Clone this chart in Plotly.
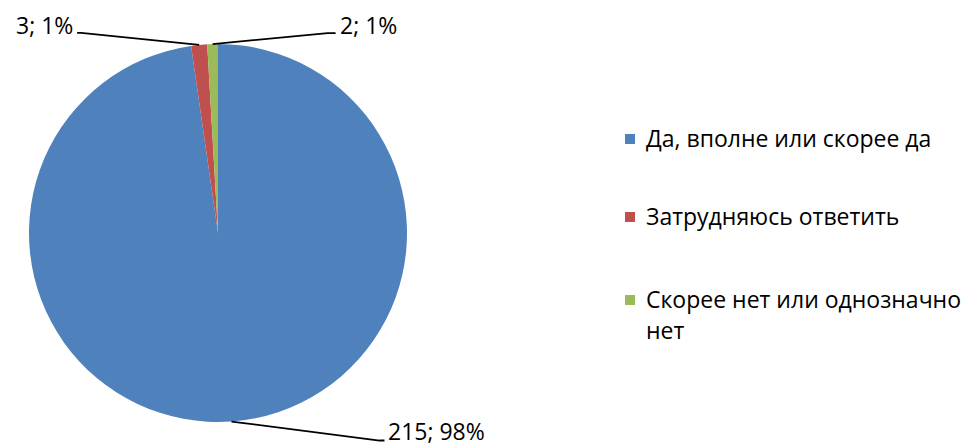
import math
import plotly.graph_objects as go

# ---- data ----
categories = ["Да, вполне или скорее да", "Затрудняюсь ответить", "Скорее нет или однозначно нет"]
legend_labels = ["Да, вполне или скорее да", "Затрудняюсь ответить", "Скорее нет или однозначно<br>нет"]
values = [215, 3, 2]
percents = [98, 1, 1]
colors = ["#4F81BD", "#C0504D", "#9BBB59"]

W, H = 965, 448
FONT = "Open Sans"
FS = 23

# pie geometry (pixels)
cx, cy, r = 218, 233, 189

fig = go.Figure(go.Pie(
    labels=categories,
    values=values,
    marker=dict(colors=colors, line=dict(color="white", width=0)),
    sort=False,
    direction="clockwise",
    rotation=0,
    textinfo="none",
    hoverinfo="label+value+percent",
    showlegend=False,
    domain=dict(x=[(cx - r) / W, (cx + r) / W], y=[(H - cy - r) / H, (H - cy + r) / H]),
))

def px(x):
    return x / W

def py(y):
    return 1 - y / H

# label leader lines computed from slice mid-angles
# offsets: (elbow dx, elbow dy, horizontal run, text side, text lift)
label_style = [
    (148, 19, 5, "right", 10),   # 215
    (-118, -12, -4, "left", 8),  # 3
    (115, -11, 8, "right", 8),   # 2
]
total = sum(values)
cum = 0
shapes = []
annotations = []
for i, v in enumerate(values):
    mid = (cum + v / 2) / total * 2 * math.pi
    cum += v
    ax = cx + r * math.sin(mid)
    ay = cy - r * math.cos(mid)
    dx, dy, run, side, lift = label_style[i]
    ex, ey = ax + dx, ay + dy
    fx = ex + run
    shapes.append(dict(type="path", xref="paper", yref="paper",
                       path=f"M {px(ax)},{py(ay)} L {px(ex)},{py(ey)} L {px(fx)},{py(ey)}",
                       line=dict(color="black", width=1.8)))
    txt = f"{v}; {percents[i]}%"
    annotations.append(dict(x=px(fx + (2 if side == 'right' else -2)), y=py(ey - lift), xref="paper", yref="paper",
                            text=txt, showarrow=False,
                            xanchor="left" if side == "right" else "right", yanchor="middle",
                            font=dict(family=FONT, size=FS, color="black")))

# legend drawn manually
legend_y = [138, 216, 299]
line_gap = 31
for i, lab in enumerate(legend_labels):
    y = legend_y[i]
    shapes.append(dict(type="rect", xref="paper", yref="paper",
                       x0=px(625), x1=px(635), y0=py(y - 4), y1=py(y + 6),
                       fillcolor=colors[i], line=dict(width=0)))
    for k, part in enumerate(lab.split("<br>")):
        annotations.append(dict(x=px(644), y=py(y + k * line_gap), xref="paper", yref="paper",
                                text=part, showarrow=False, align="left",
                                xanchor="left", yanchor="middle",
                                font=dict(family=FONT, size=FS, color="black")))

fig.update_layout(
    width=W, height=H,
    margin=dict(l=0, r=0, t=0, b=0),
    paper_bgcolor="white",
    plot_bgcolor="white",
    shapes=shapes,
    annotations=annotations,
)

fig.write_html("out.html", config={"displayModeBar": False},
               post_script="document.body.style.margin='0';")
